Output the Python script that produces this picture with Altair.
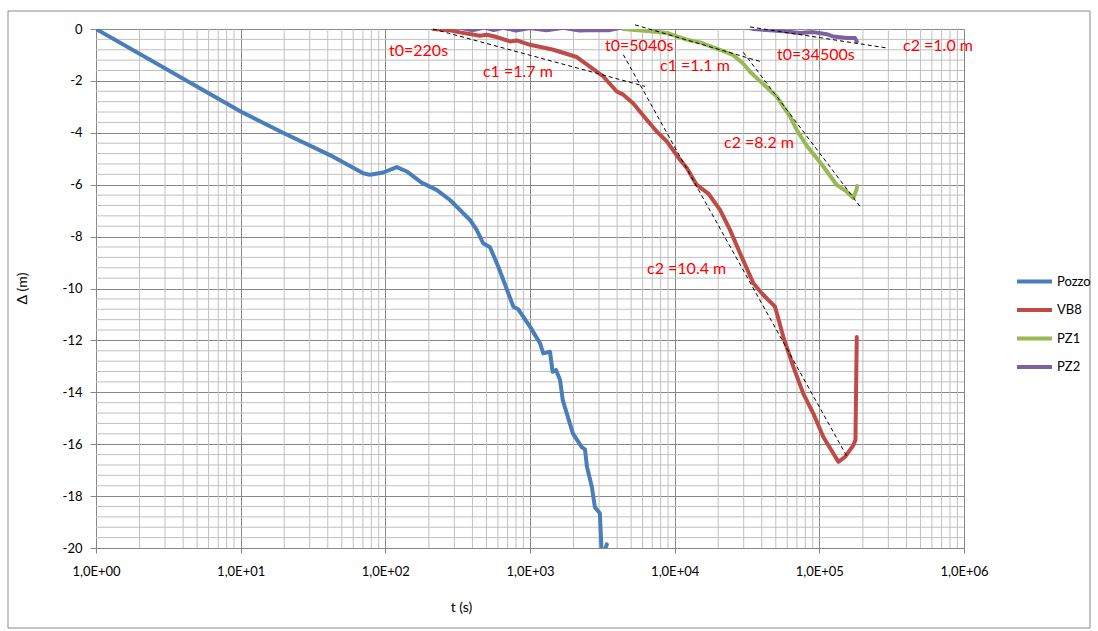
import altair as alt
import pandas as pd

# ---------------- data ----------------
pozzo_t = [1, 10, 19.6, 43.5, 70.4, 78.3, 96.8, 120, 140.6, 178, 226, 280, 385, 428, 475, 529,
           604, 767, 830, 1000, 1173, 1236, 1374, 1434, 1513, 1614, 1684, 1981, 2286, 2400,
           2474, 2679, 2810, 3041, 3141, 3398]
pozzo_d = [0, -3.18, -4.0, -4.92, -5.56, -5.62, -5.53, -5.32, -5.49, -5.92, -6.2, -6.59, -7.36,
           -7.74, -8.26, -8.41, -9.16, -10.7, -10.8, -11.47, -12.11, -12.5, -12.44, -13.21,
           -13.14, -13.53, -14.3, -15.59, -16.12, -16.2, -16.86, -17.66, -18.43, -18.66,
           -20.4, -19.86]

vb8_t = [213.6, 280, 328, 451, 502, 589, 728, 809, 1000, 1449, 2104, 2892, 3212, 3975, 4416,
         5177, 6411, 7516, 8811, 10890, 12110, 14210, 17090, 20590, 24130, 28310, 34990,
         41020, 49410, 56380, 66120, 77510, 90890, 106600, 125000, 135300, 150500, 171800,
         177700, 181400]
vb8_d = [0, -0.05, -0.13, -0.26, -0.22, -0.31, -0.48, -0.44, -0.61, -0.80, -1.08, -1.64, -1.83,
         -2.41, -2.53, -2.87, -3.50, -3.95, -4.33, -5.04, -5.35, -6.01, -6.34, -6.97, -7.74,
         -8.64, -9.80, -10.25, -10.70, -11.86, -13.02, -14.05, -14.82, -15.72, -16.36,
         -16.68, -16.49, -16.04, -15.84, -11.87]

pz1_t = [4416, 6756, 8811, 12110, 14970, 20590, 25440, 29830, 33190, 38900, 50760, 56380,
         62720, 69800, 81830, 106600, 131900, 154700, 171800, 181400, 182300]
pz1_d = [0, -0.09, -0.15, -0.41, -0.52, -0.80, -1.01, -1.34, -1.65, -2.01, -2.60, -2.99,
         -3.37, -3.89, -4.50, -5.30, -6.01, -6.27, -6.51, -6.16, -6.05]

pz2_t = [300, 400, 480, 560, 650, 800, 1000, 1300, 1700, 2200, 2800, 3500, 4200, 4600, 30000,
         34990, 45620, 56380, 73560, 90890, 112500, 125000, 139000, 154700, 176500, 181400]
pz2_d = [0.1, -0.05, 0.06, -0.04, 0.05, -0.06, 0.04, -0.05, 0.05, -0.06, -0.04, -0.05, 0.05,
         0.12, 0.12, 0, -0.05, -0.09, -0.15, -0.12, -0.20, -0.29, -0.32, -0.35, -0.35, -0.48]

series_names = ["Pozzo", "VB8", "PZ1", "PZ2"]
series_colors = ["#4A7EBB", "#BE4B48", "#98B954", "#7D60A0"]

# dashed straight-line fits (segment id, t, delta)
fit_seg = [1, 1, 2, 2, 3, 3, 4, 4, 5, 5]
fit_t = [213.6, 6240, 4416, 154700, 5321, 38900, 29830, 191200, 33190, 292400]
fit_d = [0, -2.21, -0.99, -16.46, 0.16, -1.25, -0.90, -6.84, 0.08, -0.73]

note_text = ["t0=220s", "c1 =1.7 m", "t0=5040s", "c1 =1.1 m", "c2 =8.2 m", "t0=34500s",
             "c2 =1.0 m", "c2 =10.4 m"]
note_t = [106, 473, 3301, 7921, 21940, 51010, 378900, 6442]
note_d = [-0.84, -1.65, -0.64, -1.42, -4.39, -0.99, -0.64, -9.25]

x_major = [1, 10, 100, 1000, 10000, 100000, 1000000]
x_labels = ["1,0E+00", "1,0E+01", "1,0E+02", "1,0E+03", "1,0E+04", "1,0E+05", "1,0E+06"]
y_major = list(range(-20, 1, 2))

x_minor = [m * 10 ** k for k in range(0, 6) for m in range(2, 10)]
y_minor = [round(-0.4 * i, 1) for i in range(1, 50) if i % 5 != 0]

# ---------------- tables ----------------
rows = []
for name, ts, ds in zip(series_names, [pozzo_t, vb8_t, pz1_t, pz2_t],
                        [pozzo_d, vb8_d, pz1_d, pz2_d]):
    for i, (t, d) in enumerate(zip(ts, ds)):
        rows.append({"serie": name, "t": t, "d": d, "i": i})
lines_df = pd.DataFrame(rows)
fit_df = pd.DataFrame({"seg": fit_seg, "t": fit_t, "d": fit_d})
note_df = pd.DataFrame({"label": note_text, "t": note_t, "d": note_d})
xminor_df = pd.DataFrame({"t": x_minor})
yminor_df = pd.DataFrame({"d": y_minor})

FONT = "Lato"
label_arr = "[" + ",".join("'" + s + "'" for s in x_labels) + "]"

xaxis = alt.Axis(values=x_major, labelExpr=label_arr + "[round(log(datum.value)/LN10)]",
                 title="t (s)", grid=True, gridColor="#878787", gridWidth=1,
                 tickSize=5, tickColor="#878787", domainColor="#878787",
                 labelFont=FONT, labelFontSize=13, labelColor="#000000", labelPadding=12,
                 labelFlush=False, labelOverlap=False,
                 titleFont=FONT, titleFontSize=14, titleFontWeight="normal",
                 titleColor="#000000", titleX=365, titleY=59, titleBaseline="middle")
yaxis = alt.Axis(values=y_major, labelExpr="toString(datum.value)",
                 title="Δ (m)", grid=True, gridColor="#878787", gridWidth=1,
                 tickSize=6, tickColor="#878787", domainColor="#878787",
                 labelFont=FONT, labelFontSize=13, labelColor="#000000", labelPadding=8,
                 labelFlush=False, labelOverlap=False,
                 titleFont=FONT, titleFontSize=14, titleFontWeight="normal",
                 titleColor="#000000", titleX=-74, titleY=259, titleBaseline="middle",
                 titleAlign="center")

xscale = alt.Scale(type="log", domain=[1, 1000000], nice=False)
yscale = alt.Scale(domain=[-20, 0], nice=False, zero=False)

X = alt.X("t:Q", scale=xscale, axis=xaxis)
Y = alt.Y("d:Q", scale=yscale, axis=yaxis)

xgrid = alt.Chart(xminor_df).mark_rule(color="#C0C0C0", strokeWidth=1).encode(x=X)
ygrid = alt.Chart(yminor_df).mark_rule(color="#C0C0C0", strokeWidth=1).encode(y=Y)

lines = alt.Chart(lines_df).mark_line(strokeWidth=4, clip=True, strokeJoin="round",
                                       strokeCap="round").encode(
    x=X, y=Y,
    color=alt.Color("serie:N",
                    scale=alt.Scale(domain=series_names, range=series_colors),
                    legend=alt.Legend(title=None, orient="none", legendX=919, legendY=233,
                                      symbolType="stroke", symbolSize=1225,
                                      symbolStrokeWidth=4, labelFont=FONT,
                                      labelFontSize=13, labelColor="#000000",
                                      labelOffset=3, rowPadding=0.5)),
    order="i:Q",
)

fits = alt.Chart(fit_df).mark_line(color="#000000", strokeWidth=1, strokeDash=[4, 3]).encode(
    x=X, y=Y, detail="seg:N")

notes = alt.Chart(note_df).mark_text(align="left", baseline="middle", font=FONT,
                                     fontSize=16, color="#FF0000").encode(
    x=X, y=Y, text="label:N")

frame = alt.Chart(pd.DataFrame({"a": [0]})).mark_rect(
    fill="transparent", stroke="#8A8A8A", strokeWidth=1, clip=False).encode(
    x=alt.value(-88), x2=alt.value(994), y=alt.value(-18), y2=alt.value(599))

chart = alt.layer(xgrid, ygrid, lines, fits, notes, frame).properties(
    width=868, height=519,
    padding={"left": 96, "top": 29, "right": 134, "bottom": 83},
    autosize=alt.AutoSizeParams(type="none"),
    background="#FFFFFF",
).configure_view(stroke="transparent")

chart.save("out.html", embed_options={"renderer": "svg", "actions": False})
